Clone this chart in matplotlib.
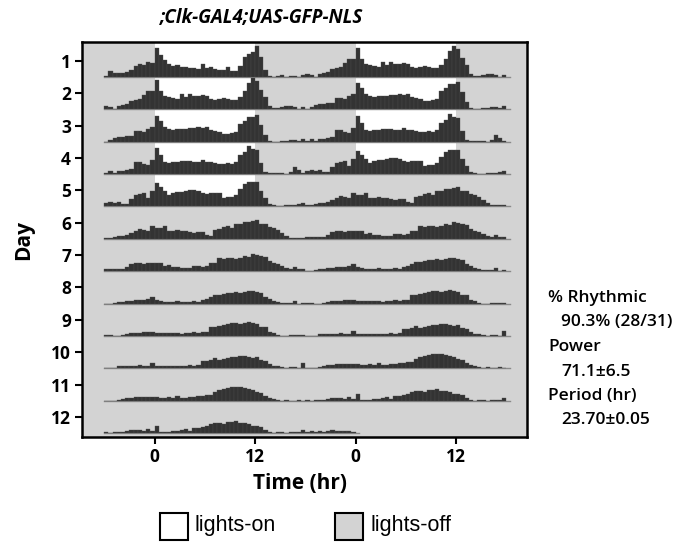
import numpy as np
import matplotlib
matplotlib.use("Agg")
import matplotlib.pyplot as plt
from matplotlib.patches import Rectangle

# actividad por bin de 30 min, ZT -6 .. 18 (48 bins por dia)
day1 = [1, 6, 4, 4, 4, 5, 7, 11, 13, 12, 15, 14, 29, 22, 17, 13, 11, 12, 10, 10, 9, 9, 8, 13,
        9, 10, 8, 7, 7, 10, 6, 6, 11, 20, 23, 25, 31, 20, 7, 1, 0, 1, 2, 0, 1, 1, 0, 2]
day2 = [3, 2, 0, 3, 4, 5, 8, 9, 10, 14, 18, 18, 29, 18, 13, 12, 11, 10, 15, 12, 15, 13, 13, 14,
        13, 10, 9, 10, 11, 10, 9, 9, 12, 18, 26, 31, 28, 19, 12, 3, 1, 1, 2, 3, 3, 2, 0, 2]
day3 = [0, 2, 4, 5, 5, 6, 6, 11, 11, 10, 13, 15, 26, 21, 15, 13, 12, 13, 13, 13, 14, 14, 15, 14,
        15, 12, 11, 10, 8, 8, 9, 10, 18, 21, 25, 25, 27, 17, 7, 1, 0, 0, 1, 1, 2, 2, 1, 3]
day4 = [1, 3, 1, 3, 3, 4, 5, 12, 12, 10, 9, 14, 26, 19, 12, 11, 12, 12, 13, 13, 13, 12, 12, 14,
        12, 12, 11, 10, 10, 11, 10, 12, 19, 22, 28, 25, 24, 11, 2, 1, 1, 1, 1, 0, 2, 7, 4, 1]
day5 = [3, 4, 3, 4, 2, 2, 7, 11, 12, 13, 8, 15, 23, 19, 15, 11, 13, 14, 14, 15, 16, 16, 15, 13,
        12, 13, 13, 13, 8, 9, 9, 11, 17, 22, 24, 24, 24, 15, 8, 2, 1, 0, 0, 1, 1, 1, 2, 3]
day6 = [1, 1, 2, 3, 3, 4, 6, 8, 10, 9, 8, 13, 11, 11, 13, 8, 8, 9, 8, 8, 7, 6, 7, 7,
        4, 3, 9, 10, 12, 13, 11, 15, 15, 17, 17, 18, 19, 15, 15, 12, 11, 9, 6, 3, 1, 1, 1, 1]
day7 = [2, 2, 2, 2, 2, 4, 7, 8, 8, 7, 8, 8, 8, 8, 5, 6, 4, 4, 3, 3, 3, 5, 5, 4,
        5, 8, 8, 13, 12, 13, 13, 12, 13, 15, 14, 17, 16, 15, 14, 10, 8, 7, 5, 3, 2, 4, 2, 2]
day8 = [0, 0, 1, 2, 2, 3, 3, 4, 4, 4, 5, 7, 4, 3, 2, 2, 2, 3, 2, 2, 2, 3, 2, 4,
        5, 7, 9, 9, 10, 11, 11, 12, 11, 12, 13, 13, 12, 11, 7, 5, 3, 2, 1, 1, 1, 3, 0, 1]
day9 = [1, 1, 0, 0, 1, 2, 3, 3, 3, 4, 4, 4, 3, 3, 3, 3, 3, 3, 2, 3, 3, 4, 3, 4,
        4, 9, 9, 10, 11, 12, 13, 13, 12, 13, 14, 13, 12, 9, 9, 4, 3, 1, 0, 0, 1, 1, 1, 1]
day10 = [0, 0, 0, 2, 2, 2, 2, 2, 3, 2, 2, 5, 2, 2, 2, 2, 2, 2, 2, 2, 3, 2, 3, 7,
         7, 8, 10, 8, 9, 10, 11, 11, 12, 12, 11, 10, 11, 8, 7, 4, 2, 2, 1, 0, 1, 1, 0, 5]
day11 = [0, 0, 0, 1, 2, 3, 3, 4, 4, 4, 4, 4, 4, 3, 3, 4, 3, 5, 3, 3, 4, 4, 5, 5,
         6, 6, 9, 11, 12, 13, 14, 14, 14, 13, 12, 11, 9, 8, 5, 3, 2, 1, 0, 1, 0, 0, 1, 0]
day12 = [1, 0, 1, 1, 1, 2, 3, 3, 3, 2, 4, 2, 7, 1, 1, 1, 2, 2, 3, 4, 2, 5, 5, 6,
         7, 9, 10, 10, 9, 11, 11, 12, 10, 10, 9, 7, 7, 6, 3, 1, 0, 1, 1, 0, 1, 1, 1, 3]
day13 = [1, 2, 1, 2, 1, 2, 3, 2, 2, 2, 2, 1]   # solo ZT -6 .. 0

dias = [day1, day2, day3, day4, day5, day6, day7, day8, day9, day10, day11, day12, day13]
N_LD = 5              # dias con luz (LD 12:12)
BIN = 0.5             # horas por bin
T_INI = -6
ESCALA = 32.4         # cuentas que llenan una fila

xticks = [0, 12, 24, 36]
xticklabels = ["0", "12", "0", "12"]

GRIS = "#d3d3d3"
BARRA = "#333333"
FUENTE = "Open Sans"

fig = plt.figure(figsize=(6.87, 5.46), dpi=100)
ax = fig.add_axes([0.1194, 0.1996, 0.6477, 0.7235])
ax.set_facecolor(GRIS)
ax.set_xlim(-8.65, 44.45)
ax.set_ylim(-0.12, 12.08)

n_filas = 12
for k in range(1, n_filas + 1):
    base = n_filas - k
    techo = base + 1 if k > 1 else 12.2
    # luces encendidas (fondo blanco)
    for mitad, dia in enumerate([k, k + 1]):
        if dia <= N_LD:
            ax.add_patch(Rectangle((24 * mitad, base), 12, techo - base,
                                   facecolor="white", edgecolor="none", zorder=1))
    fin = T_INI
    for mitad, dia in enumerate([k, k + 1]):
        if dia > len(dias):
            continue
        vals = np.array(dias[dia - 1], dtype=float)
        t = T_INI + 24 * mitad + BIN * np.arange(len(vals))
        ax.bar(t, vals / ESCALA, width=BIN, bottom=base, align="edge",
               color=BARRA, edgecolor="#4d4d4d", linewidth=0.25, zorder=3)
        fin = t[-1] + BIN
    ax.plot([T_INI, fin + 0.4], [base, base], color="#8a8a8a", lw=1.0, zorder=2)

ax.set_xticks(xticks)
ax.set_xticklabels(xticklabels, fontsize=12.5, fontweight="bold", family=FUENTE)
ax.set_yticks([n_filas - k + 0.5 for k in range(1, n_filas + 1)])
ax.set_yticklabels([str(k) for k in range(1, n_filas + 1)], fontsize=12.5,
                   fontweight="bold", family=FUENTE)
ax.tick_params(direction="out", length=5, width=1.5, pad=3)
for s in ax.spines.values():
    s.set_linewidth(1.8)

ax.set_xlabel("Time (hr)", fontsize=15, fontweight="bold", family=FUENTE, labelpad=5)
ax.xaxis.set_label_coords(0.49, -0.09)
ax.set_ylabel("Day", fontsize=15, fontweight="bold", family=FUENTE, labelpad=12)

fig.text(262 / 687, 1 - 18 / 546, ";Clk-GAL4;UAS-GFP-NLS", ha="center", va="center",
         fontsize=13.5, style="italic", fontweight="bold", family=FUENTE)

# estadisticas
stats = [("% Rhythmic", False), ("90.3% (28/31)", True), ("Power", False),
         ("71.1\u00b16.5", True), ("Period (hr)", False), ("23.70\u00b10.05", True)]
for i, (txt, sangria) in enumerate(stats):
    x = 561 if sangria else 548
    y = 298 + i * 24.5
    fig.text(x / 687, 1 - y / 546, txt, ha="left", va="center", fontsize=12.5,
             fontweight="semibold", family=FUENTE)

# leyenda
for x0, col, etiqueta in [(160, "white", "lights-on"), (335, GRIS, "lights-off")]:
    fig.patches.append(Rectangle((x0 / 687, 1 - 540 / 546), 28 / 687, 27 / 546,
                                 transform=fig.transFigure, facecolor=col,
                                 edgecolor="black", linewidth=1.5))
    fig.text((x0 + 35) / 687, 1 - 526 / 546, etiqueta, ha="left", va="center",
             fontsize=15.5, family=["Liberation Sans Narrow", "Liberation Sans"])

fig.savefig("out.png", dpi=100)
